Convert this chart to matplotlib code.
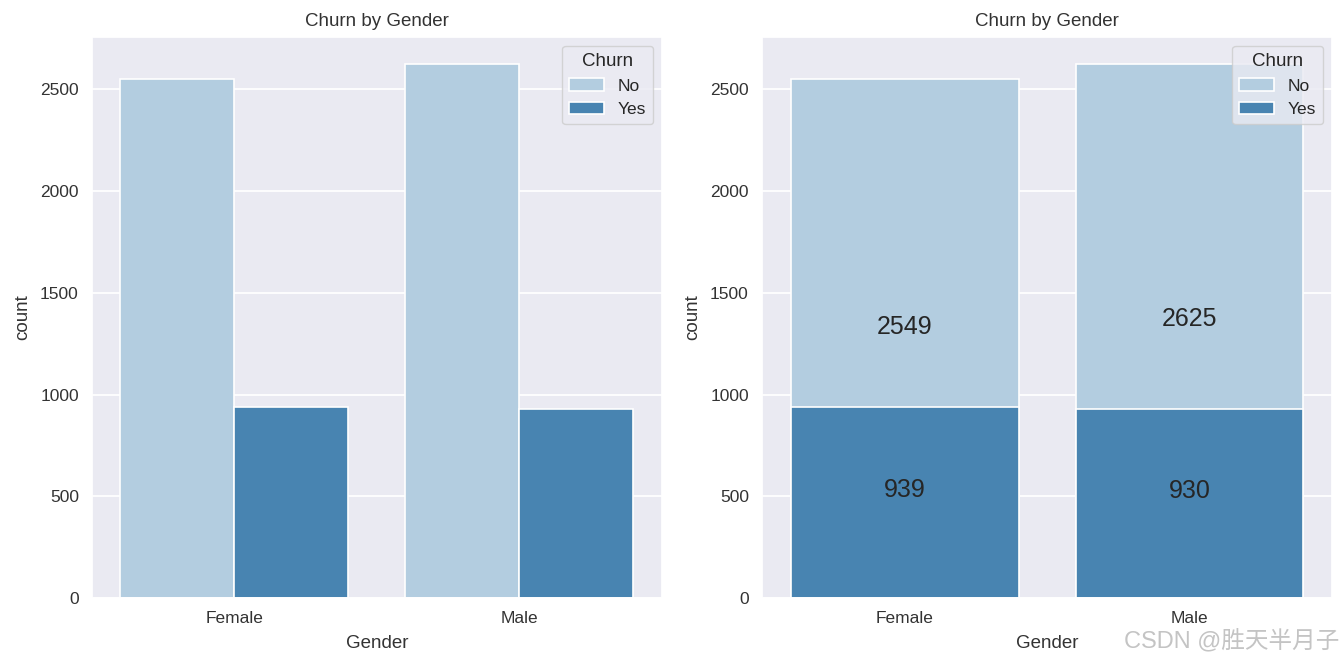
import matplotlib
matplotlib.use('Agg')
import matplotlib.pyplot as plt
import seaborn as sns
import numpy as np

# ---------------------------------------------------------------------------- #
#                                     Data                                     #
# ---------------------------------------------------------------------------- #
genders = ['Female', 'Male']
churn_levels = ['No', 'Yes']
churn_no = [2549, 2625]
churn_yes = [939, 930]

LIGHT = '#b3cde0'
DARK = '#4884b1'

sns.set_theme(style='darkgrid')
plt.rcParams['font.family'] = ['Liberation Sans', 'Noto Sans CJK SC', 'DejaVu Sans']

fig = plt.figure(figsize=(13.43, 6.63), dpi=100)
ax1 = fig.add_axes([0.0685, 0.098, 0.4244, 0.846])
ax2 = fig.add_axes([0.5674, 0.098, 0.4244, 0.846])

x = np.arange(len(genders))

# left: side-by-side counts
ax1.bar(x - 0.2, churn_no, width=0.4, color=LIGHT, edgecolor='white', linewidth=1.2, label=churn_levels[0])
ax1.bar(x + 0.2, churn_yes, width=0.4, color=DARK, edgecolor='white', linewidth=1.2, label=churn_levels[1])

# right: overlaid bars with labels
ax2.bar(x, churn_no, width=0.8, color=LIGHT, edgecolor='white', linewidth=1.2, label=churn_levels[0])
ax2.bar(x, churn_yes, width=0.8, color=DARK, edgecolor='white', linewidth=1.2, label=churn_levels[1])
for xi, n, y in zip(x, churn_no, churn_yes):
    ax2.text(xi, n / 2, str(n), ha='center', va='bottom', fontsize=18, color='#262626')
    ax2.text(xi, y / 2, str(y), ha='center', va='bottom', fontsize=18, color='#262626')

ymax = max(churn_no) * 1.05
for ax in (ax1, ax2):
    ax.set_xlim(-0.5, 1.5)
    ax.set_ylim(0, ymax)
    ax.set_xticks(x)
    ax.set_xticklabels(genders)
    ax.set_yticks([0, 500, 1000, 1500, 2000, 2500])
    ax.tick_params(labelsize=12.5, colors='#333333')
    ax.set_title('Churn by Gender', fontsize=13.5, color='#333333', pad=8)
    ax.set_xlabel('Gender', fontsize=13.5, color='#333333', labelpad=6)
    ax.set_ylabel('count', fontsize=13.5, color='#333333', labelpad=6)
    ax.grid(axis='x', visible=False)
    ax.grid(axis='y', color='white', linewidth=1.3)
    leg = ax.legend(title='Churn', loc='upper right', fontsize=12.5, title_fontsize=13.5)

fig.text(0.997, 0.033, 'CSDN @胜天半月子', ha='right', va='center', fontsize=17, color='#c4c4c4')

fig.savefig('out.png', dpi=100)
